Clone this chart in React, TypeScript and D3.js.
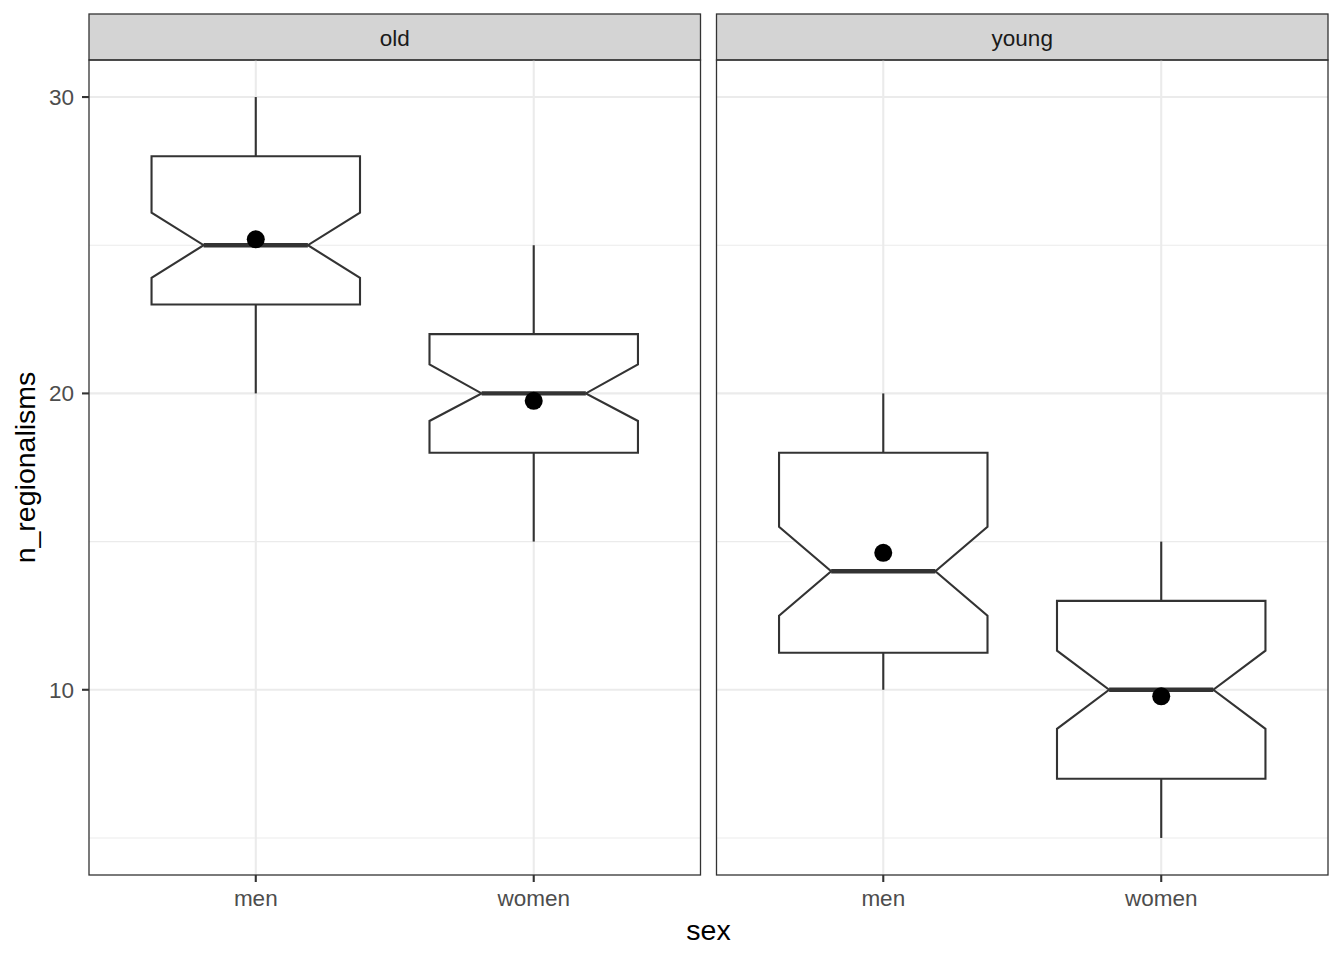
import React from 'react';
import * as d3 from 'd3';

// facet panels and categories
const ageGroups = ['old', 'young'];
const sexes = ['men', 'women'];

// box stats per panel (old men, old women, young men, young women)
const whiskerLow = [20, 15, 10, 5];
const boxLow = [23, 18, 11.25, 7];
const medians = [25, 20, 14, 10];
const boxHigh = [28, 22, 18, 13];
const whiskerHigh = [30, 25, 20, 15];
const notchLow = [23.9, 19.07, 12.5, 8.68];
const notchHigh = [26.1, 20.98, 15.5, 11.32];
const means = [25.2, 19.75, 14.62, 9.78];

const majorTicks = [10, 20, 30];
const minorTicks = [5, 15, 25];

const W = 1344;
const H = 960;
const margin = { top: 14, right: 16, bottom: 85, left: 89 };
const stripH = 46;
const gap = 16;
const font = '"Liberation Sans", Arial, Helvetica, sans-serif';
const tickSize = 22.5;
const titleSize = 28.5;

const App: React.FC = () => {
  const panelW = (W - margin.left - margin.right - gap) / ageGroups.length;
  const panelTop = margin.top + stripH;
  const panelBottom = H - margin.bottom;

  const y = d3.scaleLinear().domain([3.75, 31.25]).range([panelBottom, panelTop]);

  return (
    <svg width={W} height={H} style={{ display: 'block', position: 'absolute', left: 0, top: 0 }}>
      <rect width={W} height={H} fill="#fff" />
      {ageGroups.map((grp, gi) => {
        const x0 = margin.left + gi * (panelW + gap);
        const x = d3.scalePoint<string>().domain(sexes).range([x0, x0 + panelW]).padding(0.6);
        const unit = x.step();
        const boxW = unit * 0.75;
        return (
          <g key={grp}>
            {/* strip */}
            <rect x={x0} y={margin.top} width={panelW} height={stripH} fill="#D4D4D4" stroke="#333" strokeWidth={1.3} />
            <text x={x0 + panelW / 2} y={46} textAnchor="middle"
              fontFamily={font} fontSize={tickSize} fill="#1A1A1A">{grp}</text>
            {/* grid */}
            {minorTicks.map(t => (
              <line key={'mi' + t} x1={x0} x2={x0 + panelW} y1={y(t)} y2={y(t)} stroke="#EBEBEB" strokeWidth={1.1} />
            ))}
            {majorTicks.map(t => (
              <line key={'ma' + t} x1={x0} x2={x0 + panelW} y1={y(t)} y2={y(t)} stroke="#EBEBEB" strokeWidth={2.1} />
            ))}
            {sexes.map(s => (
              <line key={'gx' + s} x1={x(s)} x2={x(s)} y1={panelTop} y2={panelBottom} stroke="#EBEBEB" strokeWidth={2.1} />
            ))}
            {/* boxes */}
            {sexes.map((s, si) => {
              const i = gi * sexes.length + si;
              const cx = x(s)!;
              const l = cx - boxW / 2;
              const r = cx + boxW / 2;
              const nl = cx - boxW / 4;
              const nr = cx + boxW / 4;
              const pts: [number, number][] = [
                [l, y(boxHigh[i])], [l, y(notchHigh[i])], [nl, y(medians[i])], [l, y(notchLow[i])],
                [l, y(boxLow[i])], [r, y(boxLow[i])], [r, y(notchLow[i])], [nr, y(medians[i])],
                [r, y(notchHigh[i])], [r, y(boxHigh[i])],
              ];
              const path = d3.line()(pts) + 'Z';
              return (
                <g key={s}>
                  <line x1={cx} x2={cx} y1={y(whiskerHigh[i])} y2={y(boxHigh[i])} stroke="#333" strokeWidth={2.1} />
                  <line x1={cx} x2={cx} y1={y(boxLow[i])} y2={y(whiskerLow[i])} stroke="#333" strokeWidth={2.1} />
                  <path d={path} fill="#fff" stroke="#333" strokeWidth={2.1} strokeLinejoin="miter" />
                  <line x1={nl} x2={nr} y1={y(medians[i])} y2={y(medians[i])} stroke="#333" strokeWidth={4.3} />
                  <circle cx={cx} cy={y(means[i])} r={9} fill="#000" />
                </g>
              );
            })}
            {/* panel border */}
            <rect x={x0} y={panelTop} width={panelW} height={panelBottom - panelTop} fill="none" stroke="#333" strokeWidth={1.3} />
            {/* x axis ticks */}
            {sexes.map(s => (
              <g key={'xt' + s}>
                <line x1={x(s)} x2={x(s)} y1={panelBottom} y2={panelBottom + 7} stroke="#333" strokeWidth={2.1} />
                <text x={x(s)} y={906} textAnchor="middle" fontFamily={font} fontSize={tickSize} fill="#4D4D4D">{s}</text>
              </g>
            ))}
          </g>
        );
      })}
      {/* y axis */}
      {majorTicks.map(t => (
        <g key={'yt' + t}>
          <line x1={margin.left - 7} x2={margin.left} y1={y(t)} y2={y(t)} stroke="#333" strokeWidth={2.1} />
          <text x={margin.left - 15} y={y(t)} dy="0.35em" textAnchor="end" fontFamily={font} fontSize={tickSize} fill="#4D4D4D">{t}</text>
        </g>
      ))}
      <text transform={`translate(35,${(panelTop + panelBottom) / 2}) rotate(-90)`} textAnchor="middle"
        fontFamily={font} fontSize={titleSize} fill="#000">n_regionalisms</text>
      <text x={(margin.left + W - margin.right) / 2} y={940} textAnchor="middle"
        fontFamily={font} fontSize={titleSize} fill="#000">sex</text>
    </svg>
  );
};

export default App;
